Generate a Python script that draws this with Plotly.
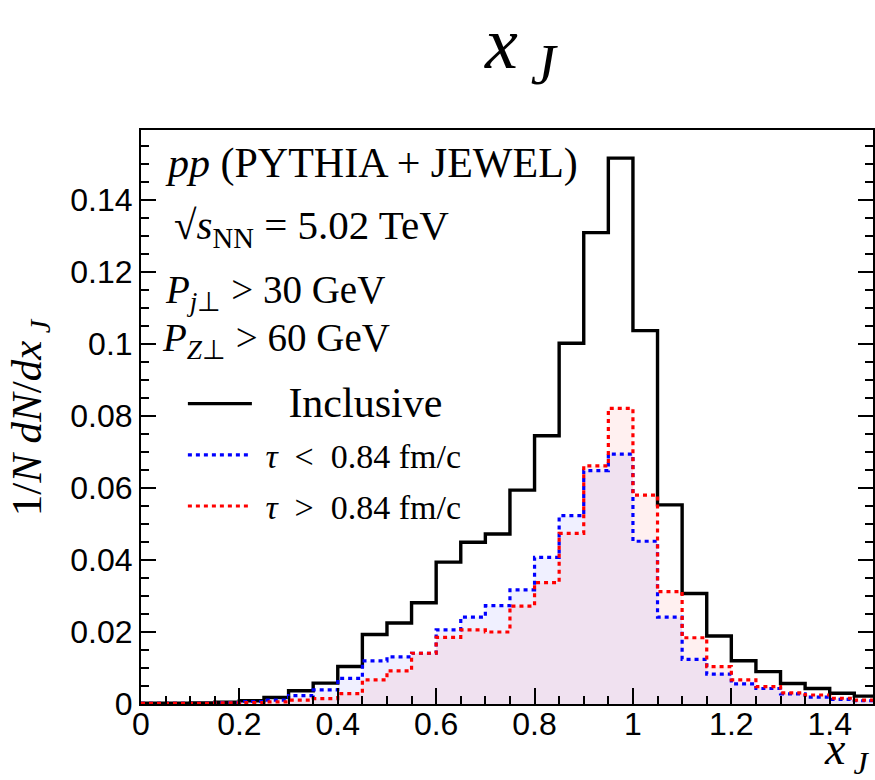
import plotly.graph_objects as go

# ---------------- data ----------------
bin_width = 0.05
bin_low = [round(bin_width * i, 2) for i in range(30)]

inclusive = [0.0002, 0.0002, 0.0003, 0.0005, 0.0009, 0.0018, 0.0037, 0.0058,
             0.0104, 0.0193, 0.0225, 0.0281, 0.0394, 0.0449, 0.0472, 0.0594,
             0.0745, 0.1002, 0.1309, 0.1516, 0.1037, 0.0553, 0.0307, 0.0189,
             0.0120, 0.0090, 0.0057, 0.0043, 0.0030, 0.0022]
tau_lt = [0.0002, 0.0002, 0.0002, 0.0004, 0.0007, 0.0011, 0.0023, 0.0039,
          0.0071, 0.0120, 0.0131, 0.0141, 0.0206, 0.0241, 0.0273, 0.0317,
          0.0407, 0.0523, 0.0648, 0.0694, 0.0452, 0.0241, 0.0124, 0.0083,
          0.0056, 0.0043, 0.0028, 0.0019, 0.0013, 0.0009]
tau_gt = [0.0002, 0.0002, 0.0002, 0.0003, 0.0004, 0.0006, 0.0011, 0.0015,
          0.0029, 0.0067, 0.0092, 0.0141, 0.0185, 0.0206, 0.0200, 0.0272,
          0.0337, 0.0474, 0.0661, 0.0821, 0.0580, 0.0312, 0.0184, 0.0104,
          0.0067, 0.0048, 0.0031, 0.0025, 0.0016, 0.0011]

x_ticks = [0, 0.2, 0.4, 0.6, 0.8, 1.0, 1.2, 1.4]
x_ticklabels = ["0", "0.2", "0.4", "0.6", "0.8", "1", "1.2", "1.4"]
y_ticks = [0, 0.02, 0.04, 0.06, 0.08, 0.1, 0.12, 0.14]
y_ticklabels = ["0", "0.02", "0.04", "0.06", "0.08", "0.1", "0.12", "0.14"]

edges = bin_low + [round(bin_low[-1] + bin_width, 2)]


def steps(vals):
    return list(vals) + [vals[-1]]


SERIF = "Liberation Serif"
SANS = "Liberation Sans"

fig = go.Figure()

# fills (no legend)
fig.add_trace(go.Scatter(x=edges, y=steps(tau_lt), mode="lines", line_shape="hv",
                         line=dict(width=0), fill="tozeroy",
                         fillcolor="rgba(0,0,255,0.06)", showlegend=False,
                         hoverinfo="skip"))
fig.add_trace(go.Scatter(x=edges, y=steps(tau_gt), mode="lines", line_shape="hv",
                         line=dict(width=0), fill="tozeroy",
                         fillcolor="rgba(255,0,0,0.06)", showlegend=False,
                         hoverinfo="skip"))

# outlines
fig.add_trace(go.Scatter(x=edges, y=steps(inclusive), mode="lines", line_shape="hv",
                         line=dict(color="black", width=3.4),
                         name="<span style='font-size:42px'>&nbsp;&nbsp;&nbsp;Inclusive</span>",
                         legendgroup="a"))
fig.add_trace(go.Scatter(x=edges, y=steps(tau_lt), mode="lines", line_shape="hv",
                         line=dict(color="#0000ff", width=3.2, dash="4px,4px"),
                         name="&nbsp;<i>τ</i>&nbsp; &lt; &nbsp;0.84 fm/c", legendgroup="b"))
fig.add_trace(go.Scatter(x=edges, y=steps(tau_gt), mode="lines", line_shape="hv",
                         line=dict(color="#ff0000", width=3.2, dash="4px,4px"),
                         name="&nbsp;<i>τ</i>&nbsp; &gt; &nbsp;0.84 fm/c", legendgroup="c"))

L, R, T, B = 141, 0, 130, 76
W, H = 875, 780
pw, ph = W - L - R, H - T - B


def px(xp):
    return (xp - L) / pw


def py(yp):
    return (H - B - yp) / ph


annos = [
    dict(text="<i>pp</i> (PYTHIA + JEWEL)", x=px(163), y=py(163), size=42),
    dict(text="√<i>s</i><sub>NN</sub> = 5.02 TeV", x=px(172), y=py(228), size=41),
    dict(text="<i>P</i><sub><i>j</i>⊥</sub> &gt; 30 GeV", x=px(163), y=py(292), size=39),
    dict(text="<i>P</i><sub><i>Z</i>⊥</sub> &gt; 60 GeV", x=px(160), y=py(340), size=39),
]
annotations = []
for a in annos:
    annotations.append(dict(text=a["text"], x=a["x"], y=a["y"], xref="paper", yref="paper",
                            xanchor="left", yanchor="middle", showarrow=False,
                            font=dict(family=SERIF, size=a["size"], color="black")))
# axis titles / title
annotations.append(dict(text="<i>x</i><sub> <i>J</i></sub>", x=(873 - L) / pw, y=py(752),
                        xref="paper", yref="paper", xanchor="right", yanchor="middle",
                        showarrow=False, font=dict(family=SERIF, size=46, color="black")))
annotations.append(dict(text="1/<i>N</i> <i>dN</i>/<i>dx</i><sub> <i>J</i></sub>", x=px(30),
                        y=py(417), xref="paper", yref="paper", xanchor="center",
                        yanchor="middle", textangle=-90, showarrow=False,
                        font=dict(family=SERIF, size=43, color="black")))
annotations.append(dict(text="<i>x</i><sub> <span style='font-size:56px'><i>J</i></span></sub>",
                        x=(523 - L) / pw, y=py(0), yanchor="top",
                        xref="paper", yref="paper", xanchor="center",
                        showarrow=False, font=dict(family=SERIF, size=74, color="black")))

fig.update_layout(
    width=W, height=H,
    margin=dict(l=L, r=R, t=T, b=B),
    paper_bgcolor="white", plot_bgcolor="white",
    showlegend=True,
    legend=dict(x=px(183), y=py(375), xanchor="left", yanchor="top",
                font=dict(family=SERIF, size=34, color="black"),
                itemwidth=64, traceorder="grouped", tracegroupgap=4,
                bgcolor="rgba(0,0,0,0)"),
    annotations=annotations,
)
fig.update_xaxes(range=[0, 1.488], showgrid=False, zeroline=False,
                 showline=True, linecolor="black", linewidth=2, mirror=True,
                 ticks="inside", ticklen=16, tickwidth=1.5, tickcolor="black",
                 tickvals=x_ticks, ticktext=x_ticklabels, ticklabelstandoff=-9,
                 tickfont=dict(family=SANS, size=32, color="black"),
                 minor=dict(dtick=0.05, tick0=0, ticks="inside", ticklen=8,
                            tickwidth=1.5, tickcolor="black", showgrid=False))
fig.update_yaxes(range=[0, 0.1594], showgrid=False, zeroline=False,
                 showline=True, linecolor="black", linewidth=2, mirror="ticks",
                 ticks="inside", ticklen=15, tickwidth=1.5, tickcolor="black",
                 tickvals=y_ticks, ticktext=y_ticklabels,
                 tickfont=dict(family=SANS, size=32, color="black"),
                 minor=dict(dtick=0.005, tick0=0, ticks="inside", ticklen=8,
                            tickwidth=1.5, tickcolor="black", showgrid=False))

fig.write_html("out.html")
